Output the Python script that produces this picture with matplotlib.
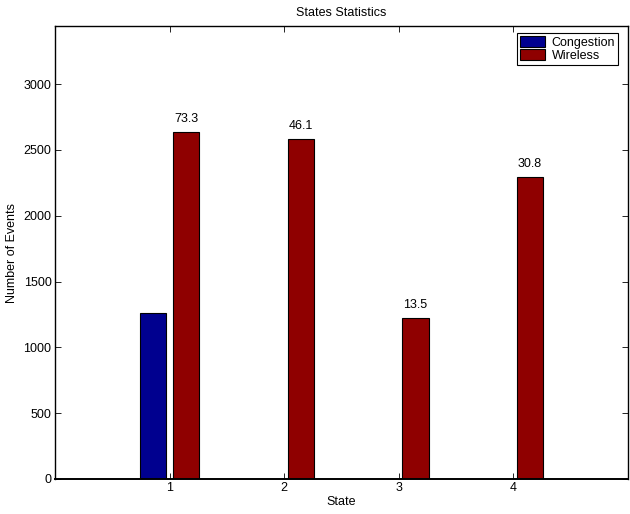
import matplotlib.pyplot as plt
import numpy as np

plt.rcParams['font.family'] = ['Liberation Sans', 'DejaVu Sans']

states = [1, 2, 3, 4]
congestion = [1259, 0, 0, 0]
wireless = [2639, 2581, 1221, 2297]
wireless_pct = ['73.3', '46.1', '13.5', '30.8']

fig = plt.figure(figsize=(6.3, 5.14), dpi=100)
ax = fig.add_axes([0.0873, 0.0681, 0.9097, 0.8813])

x = np.array(states, dtype=float)
w = 0.231
off = 0.145
ax.bar(x - off, congestion, w, color='#00008f', edgecolor='black', linewidth=0.8,
       label='Congestion')
bars = ax.bar(x + off, wireless, w, color='#8f0000', edgecolor='black', linewidth=0.8,
              label='Wireless')

# percentage labels above the wireless bars
for b, t in zip(bars, wireless_pct):
    ax.annotate(t, (b.get_x() + b.get_width() / 2, b.get_height()),
                xytext=(0, 5), textcoords='offset points',
                ha='center', va='bottom', fontsize=9)

ax.set_xlim(0, 5)
ax.set_ylim(0, 3442)
ax.set_xticks(states)
ax.set_yticks(range(0, 3001, 500))
ax.tick_params(direction='in', top=True, right=True, labelsize=9, length=4,
               width=0.6, pad=2.5)
for s in ax.spines.values():
    s.set_linewidth(1.0)
ax.spines['bottom'].set_linewidth(1.4)

ax.set_title('States Statistics', fontsize=9, pad=7)
ax.set_xlabel('State', fontsize=9, labelpad=1)
ax.set_ylabel('Number of Events', fontsize=9, labelpad=4)

leg = ax.legend(loc='upper right', bbox_to_anchor=(0.9825, 0.9845), fontsize=9,
                fancybox=False, framealpha=1, edgecolor='black',
                handlelength=2.0, handleheight=0.9, borderpad=0.25,
                labelspacing=0.05, handletextpad=0.5, borderaxespad=0.0)
leg.get_frame().set_linewidth(0.8)

plt.savefig('out.png', dpi=100)
